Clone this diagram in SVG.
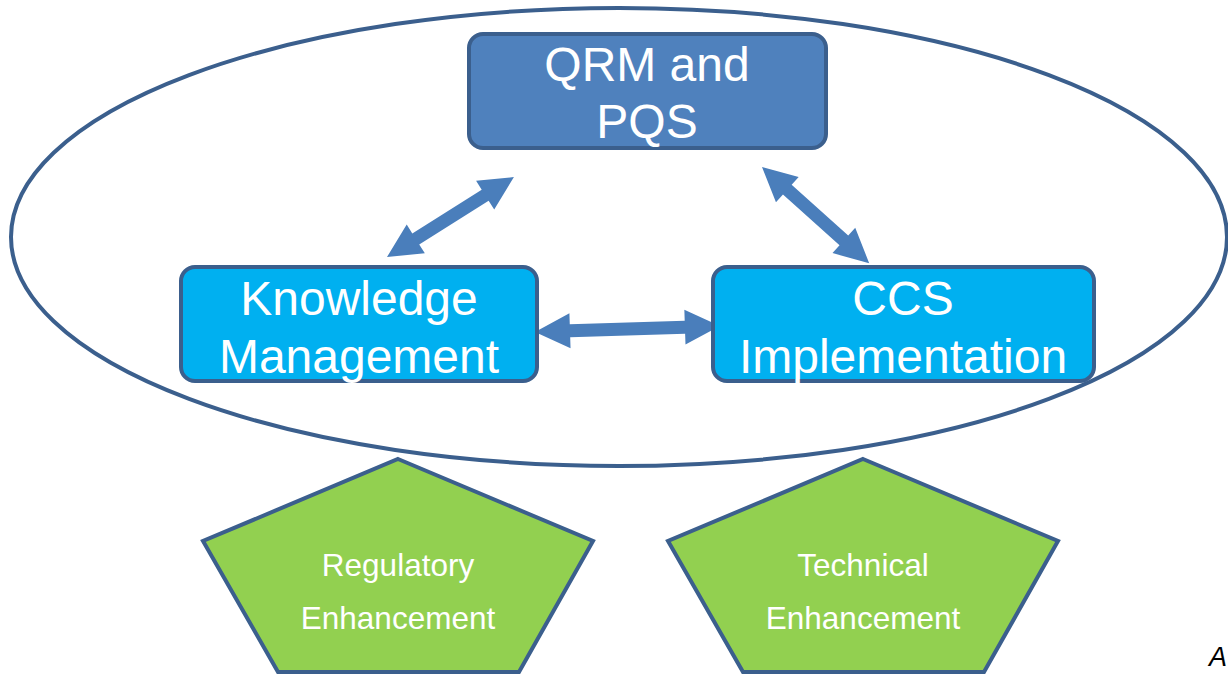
<svg xmlns="http://www.w3.org/2000/svg" width="1228" height="674" viewBox="0 0 1228 674">
  <style>
    .ring { fill: none; stroke: #3B5F8D; stroke-width: 4; }
    .box { stroke: #3B5F8D; stroke-width: 4; }
    .qrm { fill: #4F81BD; }
    .cyan { fill: #00B0F0; }
    .pent { fill: #92D050; stroke: #3B5F8D; stroke-width: 4; stroke-linejoin: miter; }
    .big { font-family: "Liberation Sans", Arial, sans-serif; font-size: 48px; fill: #FFFFFF; text-anchor: middle; }
    .small { font-family: "Liberation Sans", Arial, sans-serif; font-size: 31.5px; fill: #FFFFFF; text-anchor: middle; }
    .arrow { fill: #4A7EBB; }
  </style>

  <rect width="1228" height="674" fill="#FFFFFF"/>

  <!-- enclosing ellipse -->
  <ellipse class="ring" cx="619" cy="237" rx="608" ry="229"/>

  <g id="connectors">
    <!-- Knowledge Management <-> QRM and PQS -->
    <polygon class="arrow" transform="translate(387,257) rotate(-32.2)"
      points="0,0 34,-17 34,-6.5 116,-6.5 116,-17 150,0 116,17 116,6.5 34,6.5 34,17"/>
    <!-- QRM and PQS <-> CCS Implementation -->
    <polygon class="arrow" transform="translate(762,167) rotate(41.9)"
      points="0,0 34,-17 34,-6.5 110,-6.5 110,-17 144,0 110,17 110,6.5 34,6.5 34,17"/>
    <!-- Knowledge Management <-> CCS Implementation -->
    <polygon class="arrow" transform="translate(535,332) rotate(-1.86)"
      points="0,0 35,-17.5 35,-6.5 150,-6.5 150,-17.5 185,0 150,17.5 150,6.5 35,6.5 35,17.5"/>
  </g>

  <g id="qrm-pqs">
    <rect class="box qrm" x="469" y="34" width="357" height="114" rx="14"/>
    <text class="big" x="647" y="81">QRM and</text>
    <text class="big" x="647" y="138">PQS</text>
  </g>

  <g id="knowledge-management">
    <rect class="box cyan" x="181" y="267" width="356" height="114" rx="14"/>
    <text class="big" x="359" y="315">Knowledge</text>
    <text class="big" x="359" y="373">Management</text>
  </g>

  <g id="ccs-implementation">
    <rect class="box cyan" x="713" y="267" width="381" height="114" rx="14"/>
    <text class="big" x="903" y="315">CCS</text>
    <text class="big" x="903" y="373">Implementation</text>
  </g>

  <g id="regulatory-enhancement">
    <polygon class="pent" points="398,459 593,541 519,672 278,672 203,541"/>
    <text class="small" x="398" y="576">Regulatory</text>
    <text class="small" x="398" y="629">Enhancement</text>
  </g>

  <g id="technical-enhancement">
    <polygon class="pent" points="863,459 1058,541 984,672 743,672 668,541"/>
    <text class="small" x="863" y="576">Technical</text>
    <text class="small" x="863" y="629">Enhancement</text>
  </g>

  <text x="1209" y="666" font-family="Liberation Sans, Arial, sans-serif" font-size="27" font-style="italic" fill="#000000">A</text>
</svg>
